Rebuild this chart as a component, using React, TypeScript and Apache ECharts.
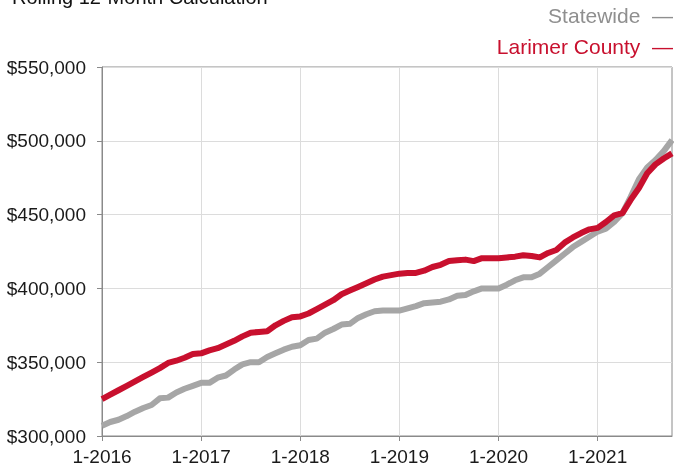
import React, { useEffect, useRef } from "react";
import * as echarts from "echarts";

const years = [2016, 2017, 2018, 2019, 2020, 2021];
const lastMonthOf2021 = 10;
const categories: string[] = [];
years.forEach((y) => {
  const n = y === 2021 ? lastMonthOf2021 : 12;
  for (let m = 1; m <= n; m++) categories.push(`${m}-${y}`);
});

const larimer = [
  325, 328, 331, 334, 337, 340, 343, 346, 349.5, 351, 353, 355.5,
  356, 358, 359.5, 362, 364.5, 367.5, 370, 370.5, 371, 375, 378, 380.5,
  381, 383, 386, 389, 392, 396, 398.5, 401, 403.5, 406, 408, 409,
  410, 410.5, 410.5, 412, 414.5, 416, 418.5, 419, 419.5, 418.5, 420.5, 420.5,
  420.5, 421, 421.5, 422.5, 422, 421, 424, 426, 431, 434.5, 437.5, 440,
  441, 445, 449.5, 451, 460, 468, 478, 484, 488, 491.5,
].map((v) => v * 1000);

const statewide = [
  307, 309.5, 311, 313.5, 316.5, 319, 321, 325.5, 326, 329.5, 332, 334,
  336, 336, 339.5, 341, 345, 348.5, 350, 350, 353.5, 356, 358.5, 360.5,
  361.5, 365, 366, 370, 372.5, 375.5, 376, 380, 382.5, 384.5, 385, 385,
  385, 386.5, 388, 390, 390.5, 391, 392.5, 395, 395.5, 398, 400, 400,
  400, 402.5, 405.5, 407.5, 407.5, 410, 414.5, 419, 423.5, 428, 431.5, 435,
  438.5, 440.5, 445, 451, 462, 474, 482, 487, 493, 500.5,
].map((v) => v * 1000);

const RED = "#C8102E";
const GRAY = "#A6A6A6";
const FONT = "Liberation Sans, Arial, Helvetica, sans-serif";

export default function App() {
  const ref = useRef<HTMLDivElement>(null);
  useEffect(() => {
    if (!ref.current) return;
    const chart = echarts.init(ref.current, undefined, { renderer: "svg" });
    chart.setOption({
      animation: false,
      grid: {
        left: 102,
        right: 2,
        top: 67,
        bottom: 30,
        show: true,
        borderColor: "#8a8a8a",
        borderWidth: 1,
        backgroundColor: "transparent",
      },
      graphic: [
        {
          type: "text",
          left: 12,
          top: -13,
          style: {
            text: "Rolling 12-Month Calculation",
            font: `20px ${FONT}`,
            fill: "#111",
          },
        },
        {
          type: "text",
          right: 1,
          top: 5,
          style: {
            text: "Statewide  \u2014",
            font: `21px ${FONT}`,
            fill: "#8f8f8f",
          },
        },
        {
          type: "text",
          right: 1,
          top: 36,
          style: {
            text: "Larimer County  \u2014",
            font: `21px ${FONT}`,
            fill: RED,
          },
        },
      ],
      xAxis: {
        type: "category",
        data: categories,
        boundaryGap: false,
        axisLine: { show: true, lineStyle: { color: "#8a8a8a", width: 1 } },
        axisTick: { show: true, interval: 11, length: 5, lineStyle: { color: "#8a8a8a" } },
        axisLabel: {
          interval: 11,
          color: "#1a1a1a",
          fontSize: 19,
          fontFamily: FONT,
          margin: 11,
        },
        splitLine: { show: true, interval: 11, lineStyle: { color: "#dcdcdc", width: 1 } },
      },
      yAxis: {
        type: "value",
        min: 300000,
        max: 550000,
        interval: 50000,
        axisLine: { show: true, lineStyle: { color: "#8a8a8a", width: 1 } },
        axisTick: { show: true, length: 5, lineStyle: { color: "#8a8a8a" } },
        axisLabel: {
          color: "#1a1a1a",
          fontSize: 19,
          fontFamily: FONT,
          margin: 16,
          formatter: (v: number) => "$" + v.toLocaleString("en-US"),
        },
        splitLine: { show: true, lineStyle: { color: "#dcdcdc", width: 1 } },
      },
      series: [
        {
          name: "Statewide",
          type: "line",
          data: statewide,
          showSymbol: false,
          lineStyle: { color: GRAY, width: 6, join: "round" },
          itemStyle: { color: GRAY },
          z: 2,
        },
        {
          name: "Larimer County",
          type: "line",
          data: larimer,
          showSymbol: false,
          lineStyle: { color: RED, width: 6, join: "round" },
          itemStyle: { color: RED },
          z: 3,
        },
      ],
    });
    return () => chart.dispose();
  }, []);
  return <div ref={ref} style={{ width: 674, height: 466, position: "fixed", left: 0, top: 0 }} />;
}
